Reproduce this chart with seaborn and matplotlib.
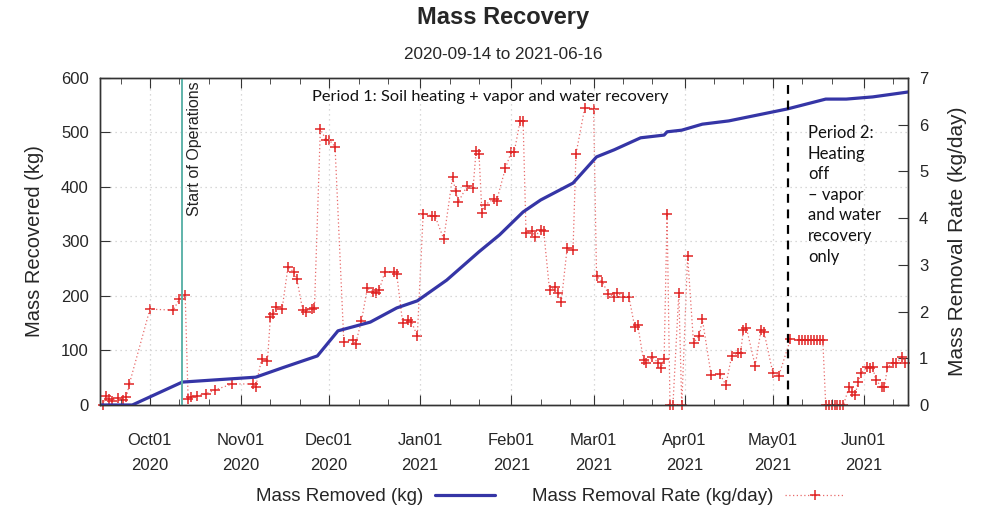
import matplotlib
matplotlib.use("Agg")
import matplotlib.pyplot as plt
import matplotlib.dates as mdates
from matplotlib.lines import Line2D
import pandas as pd
import seaborn as sns

# cumulative mass removed (kg), left axis
removed_dates = ["2020-09-14", "2020-09-25", "2020-10-12", "2020-11-06", "2020-11-15",
                 "2020-11-27", "2020-12-04", "2020-12-15", "2020-12-24", "2020-12-31",
                 "2021-01-10", "2021-01-21", "2021-01-28", "2021-02-05", "2021-02-11",
                 "2021-02-22", "2021-03-02", "2021-03-08", "2021-03-17", "2021-03-25",
                 "2021-03-26", "2021-03-31", "2021-04-07", "2021-04-16", "2021-04-26",
                 "2021-05-06", "2021-05-19", "2021-05-26", "2021-06-04", "2021-06-16"]
removed_kg = [0, 0, 42, 51, 68, 90, 136, 152, 178, 191,
              229, 281, 312, 354, 376, 407, 455, 468, 490, 495,
              501, 504, 515, 521, 532, 543, 561, 561, 565, 574]

# daily removal rate (kg/day), right axis
rate_dates = ["2020-09-15", "2020-09-16", "2020-09-17", "2020-09-18", "2020-09-20",
              "2020-09-22", "2020-09-23", "2020-09-24", "2020-10-01", "2020-10-09",
              "2020-10-11", "2020-10-13", "2020-10-14", "2020-10-15", "2020-10-17",
              "2020-10-20", "2020-10-23", "2020-10-29", "2020-11-05", "2020-11-06",
              "2020-11-08", "2020-11-10", "2020-11-11", "2020-11-12", "2020-11-13",
              "2020-11-15", "2020-11-17", "2020-11-19", "2020-11-20", "2020-11-22",
              "2020-11-23", "2020-11-25", "2020-11-26", "2020-11-28", "2020-11-30",
              "2020-12-01", "2020-12-03", "2020-12-06", "2020-12-09", "2020-12-10",
              "2020-12-12", "2020-12-14", "2020-12-16", "2020-12-17", "2020-12-18",
              "2020-12-20", "2020-12-23", "2020-12-24", "2020-12-26", "2020-12-28",
              "2020-12-29", "2020-12-31", "2021-01-02", "2021-01-05", "2021-01-06",
              "2021-01-09", "2021-01-12", "2021-01-13", "2021-01-14", "2021-01-17",
              "2021-01-19", "2021-01-20", "2021-01-21", "2021-01-22", "2021-01-23",
              "2021-01-26", "2021-01-27", "2021-01-30", "2021-02-01", "2021-02-02",
              "2021-02-04", "2021-02-05", "2021-02-06", "2021-02-08", "2021-02-09",
              "2021-02-11", "2021-02-12", "2021-02-14", "2021-02-16", "2021-02-17",
              "2021-02-18", "2021-02-20", "2021-02-22", "2021-02-23", "2021-02-26",
              "2021-03-01", "2021-03-02", "2021-03-04", "2021-03-06", "2021-03-08",
              "2021-03-09", "2021-03-11", "2021-03-13", "2021-03-15", "2021-03-16",
              "2021-03-18", "2021-03-19", "2021-03-21", "2021-03-23", "2021-03-24",
              "2021-03-25", "2021-03-26", "2021-03-27", "2021-03-28", "2021-03-30",
              "2021-03-31", "2021-04-02", "2021-04-04", "2021-04-06", "2021-04-07",
              "2021-04-10", "2021-04-13", "2021-04-15", "2021-04-17", "2021-04-19",
              "2021-04-20", "2021-04-21", "2021-04-22", "2021-04-25", "2021-04-27",
              "2021-04-28", "2021-05-01", "2021-05-03", "2021-05-07", "2021-05-10",
              "2021-05-11", "2021-05-12", "2021-05-13", "2021-05-14", "2021-05-15",
              "2021-05-16", "2021-05-17", "2021-05-18", "2021-05-19", "2021-05-20",
              "2021-05-21", "2021-05-22", "2021-05-23", "2021-05-24", "2021-05-25",
              "2021-05-27", "2021-05-28", "2021-05-29", "2021-05-30", "2021-05-31",
              "2021-06-02", "2021-06-03", "2021-06-04", "2021-06-05", "2021-06-07",
              "2021-06-08", "2021-06-09", "2021-06-11", "2021-06-12", "2021-06-14",
              "2021-06-15"]
rate_kgday = [0.00, 0.19, 0.13, 0.09, 0.15, 0.10, 0.17, 0.45, 2.05, 2.03,
              2.27, 2.35, 0.13, 0.18, 0.19, 0.24, 0.32, 0.45, 0.45, 0.39,
              0.98, 0.94, 1.88, 1.95, 2.10, 2.06, 2.96, 2.84, 2.70, 2.03,
              2.00, 2.06, 2.08, 5.90, 5.67, 5.67, 5.53, 1.35, 1.39, 1.31,
              1.80, 2.50, 2.42, 2.40, 2.46, 2.85, 2.85, 2.80, 1.76, 1.82,
              1.78, 1.48, 4.09, 4.05, 4.05, 3.55, 4.88, 4.58, 4.35, 4.69,
              4.65, 5.44, 5.37, 4.11, 4.28, 4.41, 4.37, 5.07, 5.42, 5.42,
              6.08, 6.08, 3.68, 3.73, 3.60, 3.75, 3.73, 2.46, 2.53, 2.40,
              2.21, 3.36, 3.32, 5.37, 6.36, 6.34, 2.76, 2.63, 2.38, 2.31,
              2.40, 2.32, 2.32, 1.67, 1.71, 0.96, 0.90, 1.03, 0.90, 0.80,
              0.98, 4.09, 0.00, 0.00, 2.40, 0.00, 3.19, 1.33, 1.48, 1.84,
              0.64, 0.66, 0.43, 1.05, 1.11, 1.11, 1.61, 1.65, 0.84, 1.61,
              1.56, 0.69, 0.62, 1.41, 1.39, 1.39, 1.39, 1.39, 1.39, 1.39,
              1.39, 1.39, 1.39, 0.00, 0.00, 0.00, 0.00, 0.00, 0.00, 0.00,
              0.39, 0.28, 0.21, 0.49, 0.68, 0.81, 0.79, 0.81, 0.54, 0.39,
              0.39, 0.81, 0.90, 0.90, 1.03, 0.90]

start_ops = "2020-10-12"
period2_start = "2021-05-06"
x_range = ["2020-09-14", "2021-06-16"]

month_ticks = ["2020-10-01", "2020-11-01", "2020-12-01", "2021-01-01", "2021-02-01",
               "2021-03-01", "2021-04-01", "2021-05-01", "2021-06-01"]
month_labels = ["Oct01\n2020", "Nov01\n2020", "Dec01\n2020", "Jan01\n2021", "Feb01\n2021",
                "Mar01\n2021", "Apr01\n2021", "May01\n2021", "Jun01\n2021"]

sns.set_style("white")
plt.rcParams['font.family'] = ['Liberation Sans', 'DejaVu Sans']

removed = pd.DataFrame({'date': pd.to_datetime(removed_dates), 'kg': removed_kg})
rate = pd.DataFrame({'date': pd.to_datetime(rate_dates), 'rate': rate_kgday})

fig = plt.figure(figsize=(9.83, 5.12), dpi=100)
ax = fig.add_axes([0.1017, 0.209, 0.822, 0.639])
ax2 = ax.twinx()

blue = '#3535a6'
red_line = '#e86a6a'
red_mark = '#e02424'

sns.lineplot(data=rate, x='date', y='rate', ax=ax2, color=red_line, linewidth=0.9,
             linestyle=(0, (1, 2)), marker='+', markersize=7, markeredgewidth=1.1,
             markeredgecolor=red_mark, clip_on=False)
sns.lineplot(data=removed, x='date', y='kg', ax=ax, color=blue, linewidth=2.3)

# blue line on top of the rate series
ax.set_zorder(ax2.get_zorder() + 1)
ax.patch.set_visible(False)

ax.axvline(pd.Timestamp(start_ops), color='#5fb3aa', linewidth=1.4)
ax.axvline(pd.Timestamp(period2_start), color='black', linewidth=1.6, dashes=(4, 3))

ax.set_xlim(pd.to_datetime(x_range))
ax.set_ylim(0, 600)
ax2.set_ylim(0, 7)
ax.set_yticks(range(0, 601, 100))
ax2.set_yticks(range(0, 8))

ax.set_xticks(pd.to_datetime(month_ticks))
ax.set_xticklabels(month_labels)
ax.xaxis.set_minor_locator(mdates.DayLocator(bymonthday=[11, 21]))
for lbl in ax.get_xticklabels():
    lbl.set_linespacing(1.85)

ax.tick_params(axis='x', which='both', direction='in', top=True, bottom=True,
               labelsize=12, pad=20, color='#333333')
ax.tick_params(axis='x', which='major', length=7)
ax.tick_params(axis='x', which='minor', length=4)
ax.tick_params(axis='y', direction='in', left=True, right=False, length=7,
               labelsize=12, pad=8, color='#333333')
ax2.tick_params(axis='y', direction='in', right=True, length=7,
                labelsize=12, pad=8, color='#333333')

ax.grid(True, which='major', color='#cccccc', linestyle=(0, (1, 3)), linewidth=0.9)
ax2.grid(False)

ax.set_xlabel('')
ax.set_ylabel('Mass Recovered (kg)', fontsize=14.5, labelpad=12)
ax2.set_ylabel('Mass Removal Rate (kg/day)', fontsize=15, labelpad=14)

for a in (ax, ax2):
    for s in a.spines.values():
        s.set_color('#333333')
        s.set_linewidth(1.0)

ax.text(pd.Timestamp(start_ops) + pd.Timedelta(days=1.5), 594, 'Start of Operations',
        rotation=90, va='top', ha='left', fontsize=11.5, color='#222222')
ax.text(0.483, 0.962, 'Period 1: Soil heating + vapor and water recovery',
        transform=ax.transAxes, ha='center', va='top', fontsize=11.8,
        family=['Lato', 'DejaVu Sans'], color='#111111')
ax.text(0.876, 0.855, 'Period 2:\nHeating\noff\n\u2013 vapor\nand water\nrecovery\nonly',
        transform=ax.transAxes, ha='left', va='top', fontsize=12, linespacing=1.35,
        family=['Lato', 'DejaVu Sans'], color='#111111')

fig.suptitle('Mass Recovery', x=0.512, y=0.988, fontsize=17, fontweight='bold')
fig.text(0.512, 0.885, '2020-09-14 to 2021-06-16', ha='center', fontsize=12.3)

handles = [Line2D([], [], color=blue, linewidth=2.3),
           Line2D([], [], color=red_line, linewidth=0.9, linestyle=(0, (1, 2)),
                  marker='+', markersize=7, markeredgewidth=1.1, markeredgecolor=red_mark)]
fig.legend(handles, ['Mass Removed (kg)', 'Mass Removal Rate (kg/day)'],
           loc='lower center', bbox_to_anchor=(0.56, -0.02), ncol=2, frameon=False,
           markerfirst=False, fontsize=13.5, handlelength=3.2, handletextpad=0.6,
           columnspacing=2.0)

fig.savefig('out.png', dpi=100)
